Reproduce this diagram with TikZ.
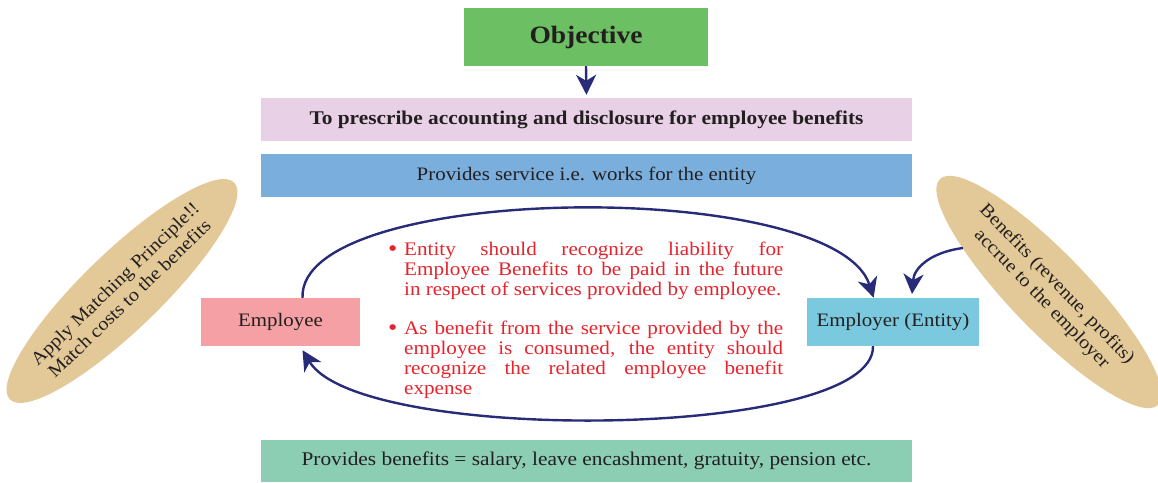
\documentclass[tikz,border=0pt]{standalone}
\usepackage{fontspec}
\setmainfont{Liberation Serif}[FakeStretch=1.1]
\usetikzlibrary{arrows.meta,shapes.geometric}
\definecolor{objgreen}{RGB}{108,191,98}
\definecolor{pinkbox}{RGB}{232,208,230}
\definecolor{bluebox}{RGB}{122,175,221}
\definecolor{empbox}{RGB}{244,160,164}
\definecolor{erbox}{RGB}{122,201,223}
\definecolor{botgreen}{RGB}{140,206,180}
\definecolor{navy}{RGB}{40,44,120}
\definecolor{redtxt}{RGB}{228,36,44}
\definecolor{darktxt}{RGB}{35,31,32}
\definecolor{tan}{RGB}{228,201,152}
\tikzset{
  boxnode/.style={rectangle, inner sep=0pt, text=darktxt, font=\fontsize{19}{22}\selectfont},
  arr/.style={draw=navy, line width=2.4pt, -{Stealth[length=20pt,width=20pt,inset=6pt]}},
  ellnode/.style={ellipse, fill=tan, inner sep=0pt},
  elltext/.style={text=darktxt, align=center, font=\fontsize{18.5}{21}\selectfont}
}
\newcommand{\redbul}{\makebox[16pt][l]{\raisebox{-1pt}{\fontsize{24}{24}\selectfont\textbullet}}}
\begin{document}
\begin{tikzpicture}[x=1pt,y=1pt]
\useasboundingbox (0,0) rectangle (1158,482);
% boxes
\node[boxnode, fill=objgreen, minimum width=244, minimum height=58, font=\fontsize{25}{28}\selectfont\bfseries] (obj) at (586,445) {Objective};
\node[boxnode, fill=pinkbox, minimum width=651, minimum height=43, font=\fontsize{19.4}{22}\selectfont\bfseries] (pink) at (586.5,362.5) {To prescribe accounting and disclosure for employee benefits};
\node[boxnode, fill=bluebox, minimum width=651, minimum height=43] (blue) at (586.5,306.5) {Provides service i.e. works for the entity};
\node[boxnode, fill=empbox, minimum width=159, minimum height=48] (emp) at (280.5,160) {Employee};
\node[boxnode, fill=erbox, minimum width=172, minimum height=48] (er) at (893,160) {Employer (Entity)};
\node[boxnode, fill=botgreen, minimum width=651, minimum height=42, font=\fontsize{19.4}{22}\selectfont] (bot) at (586.5,21) {Provides benefits = salary, leave encashment, gratuity, pension etc.};
% ellipses
\node[ellnode, minimum width=312, minimum height=78, rotate=44] (lell) at (122,191) {};
\node[elltext, rotate=44] (ltext) at (122,191) {Apply Matching Principle!!\\Match costs to the benefits};
\node[ellnode, minimum width=314, minimum height=78, rotate=-46] (rell) at (1049,190) {};
\node[elltext, rotate=-46] (rtext) at (1049,190) {Benefits (revenue, profits)\\accrue to the employer};
% red text
\node[anchor=north west, inner sep=0pt, text width=395pt, align=justify, text=redtxt, font=\fontsize{19.2}{20}\selectfont] (red) at (388,240) {%
\setlength{\parindent}{0pt}\setlength{\parskip}{19pt}%
\hangindent=16pt\hangafter=1\redbul Entity should recognize liability for\linebreak Employee Benefits to be paid in the future\linebreak in respect of services provided by employee.\par
\hangindent=16pt\hangafter=1\redbul As benefit from the service provided by the\linebreak employee is consumed, the entity should\linebreak recognize the related employee benefit\linebreak expense\par};
% connectors
\coordinate (empT) at ([xshift=22pt]emp.north);
\coordinate (empB) at ([xshift=22pt]emp.south);
\coordinate (erT) at ([xshift=-20pt]er.north);
\coordinate (erB) at ([xshift=-20pt]er.south);
\coordinate (rstart) at (963,234);
\coordinate (rend) at (912,188);
\draw[arr, shorten >=3pt] (obj.south) -- (pink.north);
\draw[arr, shorten >=-2pt] (empT) .. controls (298,300) and (835,305) .. ([yshift=2pt]erT);
\draw[arr] (erB) .. controls (875,42) and (360,37) .. ([yshift=-4pt]empB);
\draw[arr] (rstart) .. controls (932,230) and (914,215) .. (rend);
\end{tikzpicture}
\end{document}
